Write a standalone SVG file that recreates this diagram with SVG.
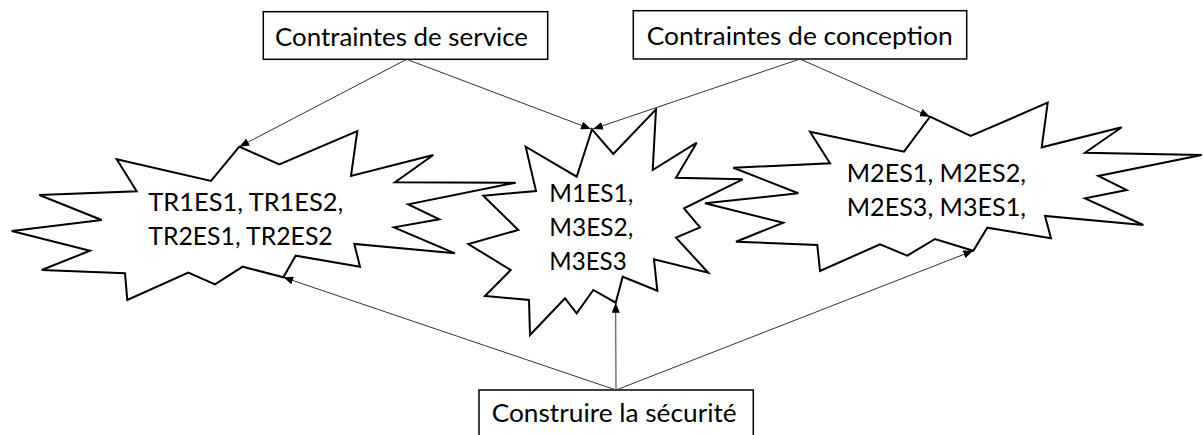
<svg xmlns="http://www.w3.org/2000/svg" width="1203" height="435" viewBox="0 0 1203 435">
<style>
.box{fill:#fff;stroke:#000;stroke-width:1.5}
.star{fill:#fff;stroke:#000;stroke-width:2;stroke-linejoin:miter}
.lbl{font-family:Lato,"Liberation Sans",sans-serif;font-size:25px;fill:#000}
.conn{fill:none;stroke:#333;stroke-width:1}
</style>
<defs>
<marker id="ah" markerUnits="userSpaceOnUse" markerWidth="10" markerHeight="8" refX="10" refY="4" orient="auto">
<path d="M0,0 L10,4 L0,8 z" fill="#000"/>
</marker>
</defs>
<rect width="1203" height="435" fill="#fff"/>
<g id="star1">
<polygon class="star" points="116.7,159.3 211,181 239.3,146.7 279.3,164.3 357.3,131 351,176 433.3,155 395,182.3 515.7,182.7 408.3,204.3 439.3,219.3 394,227.3 455,253.3 354.3,244 360,266.7 295.7,255.7 283.3,277.3 242.7,266.7 215,284.3 188.3,272.7 127.3,300 125,273.3 41.7,270 90,250.7 11.7,231 101.7,220 39.3,195 136.7,191.3"/>
<text class="lbl" x="148.3" y="211" textLength="195" lengthAdjust="spacingAndGlyphs">TR1ES1, TR1ES2,</text>
<text class="lbl" x="148.3" y="245" textLength="184.4" lengthAdjust="spacingAndGlyphs">TR2ES1, TR2ES2</text>
</g>
<g id="star3">
<polygon class="star" points="930,116.7 970.7,136 1047.7,102.7 1041.7,147.3 1121.7,127.3 1085,152.7 1201.7,155 1098.3,176 1126.7,190 1085,198.3 1143.3,225 1045,216 1051,238.3 987.3,227.7 973.3,250.7 935,239 907.3,255.7 880,244.3 820,271 817.3,245 736,241.7 783.3,222.7 705,203.3 798.3,193.3 733.3,167.7 830,163.3 810,131.7 904,151.7"/>
<text class="lbl" x="846.7" y="182" textLength="179.3" lengthAdjust="spacingAndGlyphs">M2ES1, M2ES2,</text>
<text class="lbl" x="846.7" y="216" textLength="179.3" lengthAdjust="spacingAndGlyphs">M2ES3, M3ES1,</text>
</g>
<g id="star2">
<polygon class="star" points="592,129.3 613.3,154 656,109.3 652.7,170 696.7,142.7 676,177.7 742.7,179.3 684,208.3 700,227.3 676,237.7 708.3,272.7 654,259.3 657.3,290.7 622.7,276.7 615.7,302.7 593.3,290 576.7,313.3 565,298.3 530,335 529,300 485,296 510.7,270 468.3,244 518.3,230 483.3,195.7 536,191 525.7,146.7 576.7,176.7"/>
<text class="lbl" x="549.3" y="202" textLength="84" lengthAdjust="spacingAndGlyphs">M1ES1,</text>
<text class="lbl" x="549.3" y="235.7" textLength="84" lengthAdjust="spacingAndGlyphs">M3ES2,</text>
<text class="lbl" x="549.3" y="269.7" textLength="77.4" lengthAdjust="spacingAndGlyphs">M3ES3</text>
</g>
<g id="service">
<rect class="box" x="263.3" y="11.7" width="284.4" height="47.6"/>
<text class="lbl" x="275" y="45.7" textLength="253" lengthAdjust="spacingAndGlyphs">Contraintes de service</text>
</g>
<g id="conception">
<rect class="box" x="633.3" y="10.7" width="333.4" height="48.3"/>
<text class="lbl" x="646.7" y="44.5" textLength="306" lengthAdjust="spacingAndGlyphs">Contraintes de conception</text>
</g>
<g id="construire">
<rect class="box" x="479" y="390" width="274.3" height="60"/>
<text class="lbl" x="491.7" y="422" textLength="245" lengthAdjust="spacingAndGlyphs">Construire la sécurité</text>
</g>
<g id="connectors">
<line class="conn" x1="406.7" y1="59.3" x2="239.3" y2="146.7" marker-end="url(#ah)"/>
<line class="conn" x1="406.7" y1="59.3" x2="591" y2="129" marker-end="url(#ah)"/>
<line class="conn" x1="800" y1="59" x2="593" y2="129" marker-end="url(#ah)"/>
<line class="conn" x1="800" y1="59" x2="930" y2="116.7" marker-end="url(#ah)"/>
<line class="conn" x1="616" y1="390" x2="283.3" y2="277.3" marker-end="url(#ah)"/>
<line class="conn" x1="616" y1="390" x2="615.7" y2="302.7" marker-end="url(#ah)"/>
<line class="conn" x1="616" y1="390" x2="973.3" y2="250.7" marker-end="url(#ah)"/>
</g>
</svg>
